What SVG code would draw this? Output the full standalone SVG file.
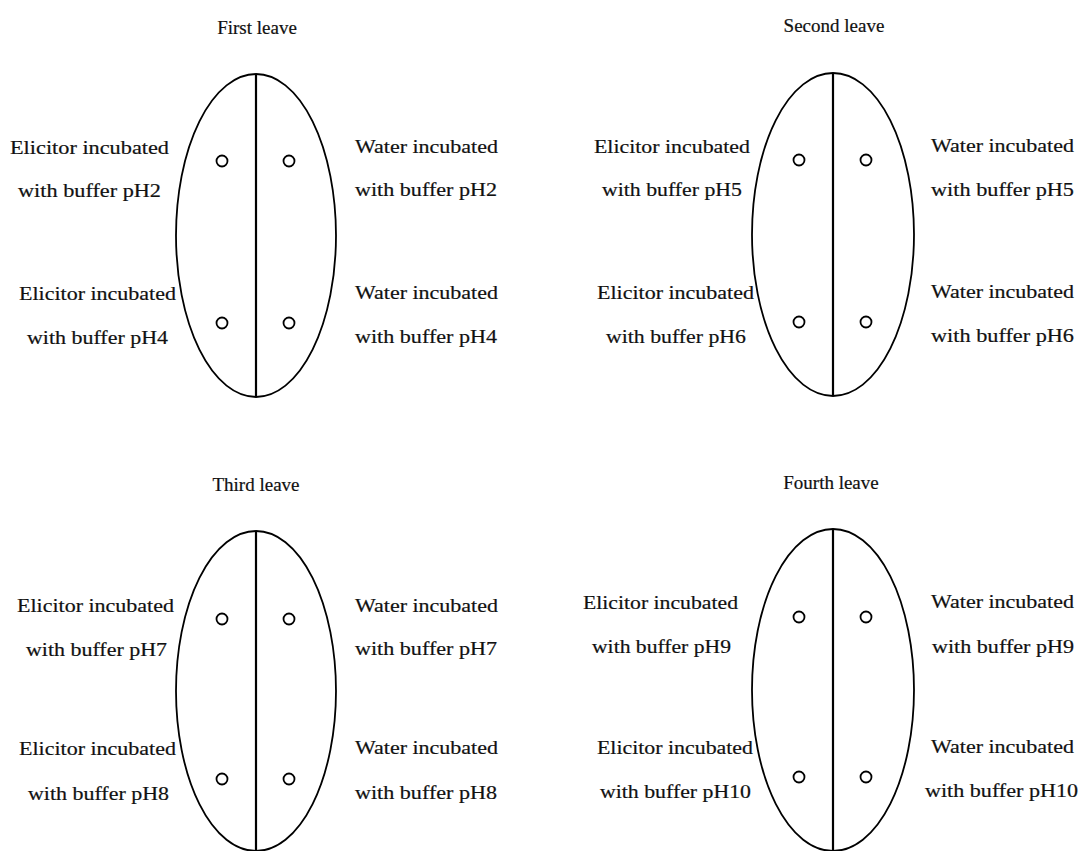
<svg xmlns="http://www.w3.org/2000/svg" width="1079" height="851" viewBox="0 0 1079 851">
  <style>
    .bg { fill: #ffffff; }
    .blade { fill: none; stroke: #000; stroke-width: 1.8; }
    .rib { stroke: #000; stroke-width: 2.2; }
    .spot { fill: none; stroke: #000; stroke-width: 1.8; }
    text { font-family: "Liberation Serif", "Times New Roman", serif; font-size: 19px; fill: #111; stroke: #111; stroke-width: 0.2; }
    .title { text-anchor: middle; }
  </style>
  <rect class="bg" x="0" y="0" width="1079" height="851"/>

  <!-- Leaf 1: pH2 / pH4 -->
  <g id="leaf-1">
    <text class="title" x="257" y="34">First leave</text>
    <ellipse class="blade" cx="256" cy="235.5" rx="80" ry="161.5"/>
    <line class="rib" x1="256" y1="74" x2="256" y2="397"/>
    <circle class="spot" cx="222" cy="161" r="5.5"/>
    <circle class="spot" cx="289" cy="161" r="5.5"/>
    <circle class="spot" cx="222" cy="323" r="5.5"/>
    <circle class="spot" cx="289" cy="323" r="5.5"/>
    <text x="10" y="154" textLength="159" lengthAdjust="spacingAndGlyphs">Elicitor incubated</text>
    <text x="18" y="197" textLength="143" lengthAdjust="spacingAndGlyphs">with buffer pH2</text>
    <text x="19" y="300" textLength="157" lengthAdjust="spacingAndGlyphs">Elicitor incubated</text>
    <text x="27" y="344" textLength="141" lengthAdjust="spacingAndGlyphs">with buffer pH4</text>
    <text x="355" y="153" textLength="143" lengthAdjust="spacingAndGlyphs">Water incubated</text>
    <text x="355" y="196" textLength="142" lengthAdjust="spacingAndGlyphs">with buffer pH2</text>
    <text x="355" y="299" textLength="143" lengthAdjust="spacingAndGlyphs">Water incubated</text>
    <text x="355" y="343" textLength="142" lengthAdjust="spacingAndGlyphs">with buffer pH4</text>
  </g>

  <!-- Leaf 2: pH5 / pH6 -->
  <g id="leaf-2">
    <text class="title" x="834" y="32">Second leave</text>
    <ellipse class="blade" cx="833" cy="234.5" rx="81" ry="161.5"/>
    <line class="rib" x1="833" y1="73" x2="833" y2="396"/>
    <circle class="spot" cx="799" cy="160" r="5.5"/>
    <circle class="spot" cx="866" cy="160" r="5.5"/>
    <circle class="spot" cx="799" cy="322" r="5.5"/>
    <circle class="spot" cx="866" cy="322" r="5.5"/>
    <text x="594" y="153" textLength="156" lengthAdjust="spacingAndGlyphs">Elicitor incubated</text>
    <text x="602" y="196" textLength="140" lengthAdjust="spacingAndGlyphs">with buffer pH5</text>
    <text x="597" y="299" textLength="157" lengthAdjust="spacingAndGlyphs">Elicitor incubated</text>
    <text x="606" y="343" textLength="140" lengthAdjust="spacingAndGlyphs">with buffer pH6</text>
    <text x="931" y="152" textLength="143" lengthAdjust="spacingAndGlyphs">Water incubated</text>
    <text x="931" y="196" textLength="143" lengthAdjust="spacingAndGlyphs">with buffer pH5</text>
    <text x="931" y="298" textLength="143" lengthAdjust="spacingAndGlyphs">Water incubated</text>
    <text x="931" y="342" textLength="143" lengthAdjust="spacingAndGlyphs">with buffer pH6</text>
  </g>

  <!-- Leaf 3: pH7 / pH8 -->
  <g id="leaf-3">
    <text class="title" x="256" y="491">Third leave</text>
    <ellipse class="blade" cx="256" cy="691" rx="80" ry="160"/>
    <line class="rib" x1="256" y1="531" x2="256" y2="851"/>
    <circle class="spot" cx="222" cy="619" r="5.5"/>
    <circle class="spot" cx="289" cy="619" r="5.5"/>
    <circle class="spot" cx="222" cy="779" r="5.5"/>
    <circle class="spot" cx="289" cy="779" r="5.5"/>
    <text x="17" y="612" textLength="157" lengthAdjust="spacingAndGlyphs">Elicitor incubated</text>
    <text x="26" y="656" textLength="141" lengthAdjust="spacingAndGlyphs">with buffer pH7</text>
    <text x="19" y="755" textLength="157" lengthAdjust="spacingAndGlyphs">Elicitor incubated</text>
    <text x="28" y="800" textLength="141" lengthAdjust="spacingAndGlyphs">with buffer pH8</text>
    <text x="355" y="612" textLength="143" lengthAdjust="spacingAndGlyphs">Water incubated</text>
    <text x="355" y="655" textLength="142" lengthAdjust="spacingAndGlyphs">with buffer pH7</text>
    <text x="355" y="754" textLength="143" lengthAdjust="spacingAndGlyphs">Water incubated</text>
    <text x="355" y="799" textLength="142" lengthAdjust="spacingAndGlyphs">with buffer pH8</text>
  </g>

  <!-- Leaf 4: pH9 / pH10 -->
  <g id="leaf-4">
    <text class="title" x="831" y="489">Fourth leave</text>
    <ellipse class="blade" cx="833" cy="690" rx="81" ry="161"/>
    <line class="rib" x1="833" y1="529" x2="833" y2="851"/>
    <circle class="spot" cx="799" cy="617" r="5.5"/>
    <circle class="spot" cx="866" cy="617" r="5.5"/>
    <circle class="spot" cx="799" cy="777" r="5.5"/>
    <circle class="spot" cx="866" cy="777" r="5.5"/>
    <text x="583" y="609" textLength="155" lengthAdjust="spacingAndGlyphs">Elicitor incubated</text>
    <text x="592" y="653" textLength="139" lengthAdjust="spacingAndGlyphs">with buffer pH9</text>
    <text x="597" y="754" textLength="156" lengthAdjust="spacingAndGlyphs">Elicitor incubated</text>
    <text x="600" y="798" textLength="151" lengthAdjust="spacingAndGlyphs">with buffer pH10</text>
    <text x="931" y="608" textLength="143" lengthAdjust="spacingAndGlyphs">Water incubated</text>
    <text x="932" y="653" textLength="142" lengthAdjust="spacingAndGlyphs">with buffer pH9</text>
    <text x="931" y="753" textLength="143" lengthAdjust="spacingAndGlyphs">Water incubated</text>
    <text x="925" y="797" textLength="153" lengthAdjust="spacingAndGlyphs">with buffer pH10</text>
  </g>
</svg>
